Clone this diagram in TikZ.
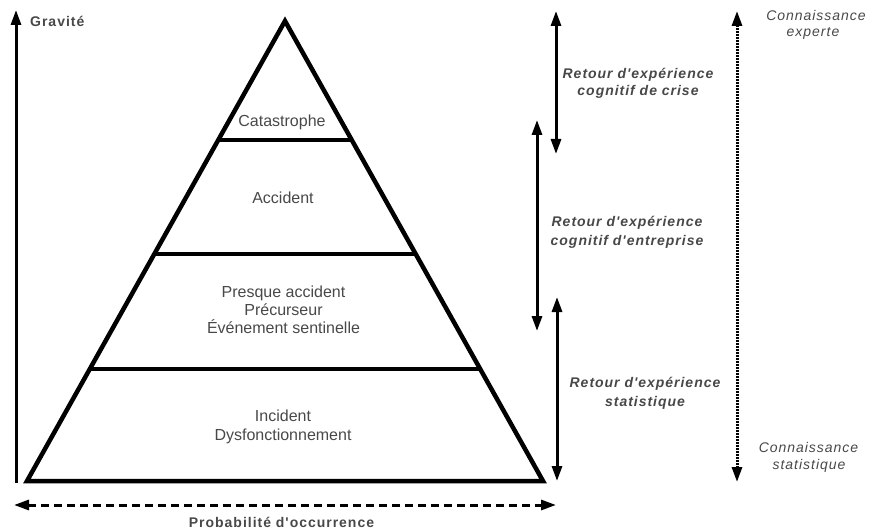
\documentclass[tikz,border=0pt]{standalone}
\usepackage{fontspec}
\setmainfont{Liberation Sans}
\newfontfamily\lblfont{Liberation Sans}[LetterSpace=7]
\usetikzlibrary{arrows.meta,calc}
\definecolor{txt}{RGB}{72,72,72}
\begin{document}
\begin{tikzpicture}[x=1pt,y=-1pt,
  pyr/.style={line width=4.5pt,line join=miter},
  tip/.tip={Triangle[width=10pt,length=15pt]},
  axis/.style={line width=3pt,-tip},
  dbl/.style={line width=3pt,tip-tip},
  maintxt/.style={text=txt,font=\fontsize{16}{18}\selectfont,anchor=base,inner sep=0pt},
  boldtxt/.style={text=txt,font=\lblfont\bfseries\fontsize{14}{16}\selectfont,anchor=base,inner sep=0pt},
  bitxt/.style={text=txt,font=\lblfont\bfseries\itshape\fontsize{14}{16}\selectfont,anchor=base,inner sep=0pt},
  ittxt/.style={text=txt,font=\lblfont\itshape\fontsize{14}{16}\selectfont,anchor=base,inner sep=0pt}
]
\useasboundingbox (0,0) rectangle (871,532);
% pyramid
\coordinate (apex) at (285,21);
\coordinate (bl) at (27,481);
\coordinate (br) at (543,481);
\draw[pyr] (apex) -- (bl) -- (br) -- cycle;
\coordinate (l1) at ($(apex)!0.2587!(bl)$);
\coordinate (r1) at ($(apex)!0.2587!(br)$);
\coordinate (l2) at ($(apex)!0.5065!(bl)$);
\coordinate (r2) at ($(apex)!0.5065!(br)$);
\coordinate (l3) at ($(apex)!0.7565!(bl)$);
\coordinate (r3) at ($(apex)!0.7565!(br)$);
\draw[pyr] (l1) -- (r1);
\draw[pyr] (l2) -- (r2);
\draw[pyr] (l3) -- (r3);
% texts in pyramid
\node[maintxt] (cat) at (282,126.5) {Catastrophe};
\node[maintxt] (acc) at (283,204) {Accident};
\node[maintxt] (pre1) at (283.5,297.3) {Presque accident};
\node[maintxt] (pre2) at (283.5,315.3) {Précurseur};
\node[maintxt] (pre3) at (283.5,333.3) {Événement sentinelle};
\node[maintxt] (inc1) at (283,421.7) {Incident};
\node[maintxt] (inc2) at (283,440) {Dysfonctionnement};
% axes
\coordinate (gB) at (16,483);
\coordinate (gT) at (16,10);
\draw[axis] (gB) -- (gT);
\node[boldtxt,anchor=base west] (grav) at (30,26.7) {Gravité};
\coordinate (pL) at (14,505);
\coordinate (pR) at (556,505);
\draw[dbl,dash pattern=on 8pt off 5pt] (pL) -- (pR);
\node[boldtxt] (prob) at (281.5,527.5) {Probabilité d'occurrence};
% right arrows
\coordinate (a1T) at (556,11);
\coordinate (a1B) at (556,154);
\draw[dbl] (a1T) -- (a1B);
\coordinate (a2T) at (537,120);
\coordinate (a2B) at (537,331);
\draw[dbl] (a2T) -- (a2B);
\coordinate (a3T) at (557,297);
\coordinate (a3B) at (557,481);
\draw[dbl] (a3T) -- (a3B);
\coordinate (dT) at (737,11);
\coordinate (dB) at (737,482);
\draw[dbl,dash pattern=on 1.5pt off 1.5pt] (dT) -- (dB);
% labels
\node[bitxt] (cr1) at (638,78.3) {Retour d'expérience};
\node[bitxt] (cr2) at (638,95.5) {cognitif de crise};
\node[bitxt] (en1) at (627,226.8) {Retour d'expérience};
\node[bitxt] (en2) at (627,245) {cognitif d'entreprise};
\node[bitxt] (st1) at (645,387.3) {Retour d'expérience};
\node[bitxt] (st2) at (645,406) {statistique};
\node[ittxt] (ce1) at (816,20.7) {Connaissance};
\node[ittxt] (ce2) at (813,37) {experte};
\node[ittxt] (cs1) at (808.5,452.7) {Connaissance};
\node[ittxt] (cs2) at (809,469.3) {statistique};
\end{tikzpicture}
\end{document}
